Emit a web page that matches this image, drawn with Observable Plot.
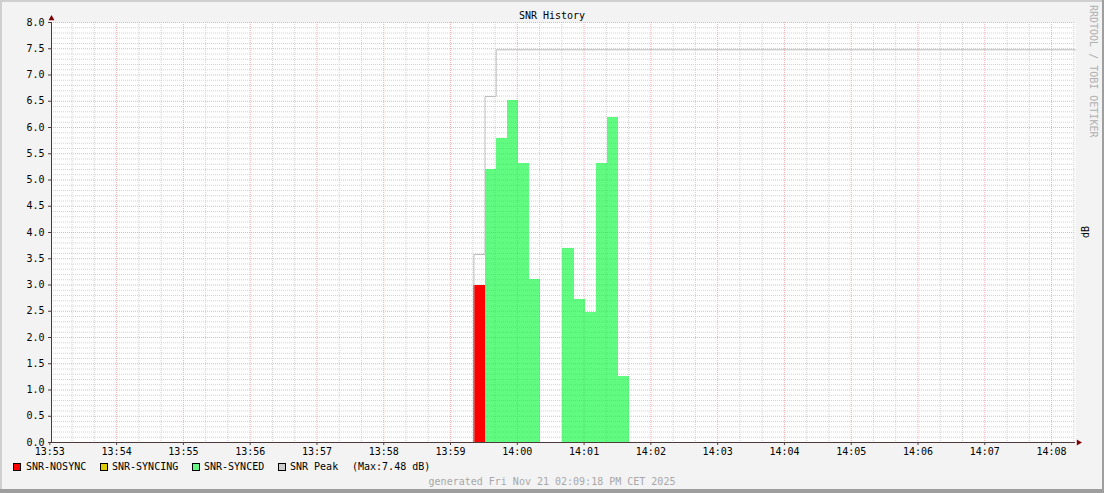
<!DOCTYPE html>
<html><head><meta charset="utf-8">
<script src="https://cdn.jsdelivr.net/npm/d3@7"></script>
<script src="https://cdn.jsdelivr.net/npm/@observablehq/plot@0.6"></script>
<style>
html,body{margin:0;padding:0;background:#f3f3f3;}
#wrap{position:relative;width:1104px;height:493px;background:#f3f3f3;overflow:hidden;font-family:"DejaVu Sans Mono",monospace;font-size:10px;line-height:10px;color:#000;}
#wrap svg{position:absolute;left:0;top:0;}
.abs{position:absolute;white-space:pre;}
.sw{position:absolute;width:8px;height:8px;box-sizing:border-box;border:1px solid #000;}
</style></head>
<body><div id="wrap"></div>
<script>
// ---- data ----
const day = "2025-11-21T";
const title = "SNR History";
const footer = "generated Fri Nov 21 02:09:18 PM CET 2025";
const watermark = "RRDTOOL / TOBI OETIKER";
const unitLabel = "dB";
const xDomain = ["13:53:01.5", "14:08:21.5"];
const xTickLabels = ["13:53","13:54","13:55","13:56","13:57","13:58","13:59","14:00","14:01","14:02","14:03","14:04","14:05","14:06","14:07","14:08"];
const yTickLabels = ["0.0","0.5","1.0","1.5","2.0","2.5","3.0","3.5","4.0","4.5","5.0","5.5","6.0","6.5","7.0","7.5","8.0"];
const barStart = ["13:59:21","13:59:31","13:59:41","13:59:51","14:00:01","14:00:11","14:00:41","14:00:51","14:01:01","14:01:11","14:01:21","14:01:31"];
const barState = ["NOSYNC","SYNCED","SYNCED","SYNCED","SYNCED","SYNCED","SYNCED","SYNCED","SYNCED","SYNCED","SYNCED","SYNCED"];
const barSnr = [3.0, 5.2, 5.8, 6.52, 5.32, 3.1, 3.7, 2.73, 2.47, 5.32, 6.2, 1.25];
const stepSeconds = 10;
const peakTimes = ["13:59:21","13:59:31","13:59:41","14:08:21.5"];
const peakValues = [3.58, 6.59, 7.48, 7.48];
const legendNames = ["SNR-NOSYNC","SNR-SYNCING","SNR-SYNCED","SNR Peak"];
const legendColors = ["#ff0000","#dccc00","#66f783","#cccccc"];
const peakMaxLabel = "(Max:7.48 dB)";

// ---- build ----
const T = s => new Date(day + s + "Z");
const x0 = T(xDomain[0]), x1 = T(xDomain[1]);
const bars = barStart.map((s, i) => ({t0: T(s), t1: new Date(T(s).getTime() + stepSeconds * 1000), v: barSnr[i], state: barState[i]}));
const peak = [{t: T(peakTimes[0]), v: 0}].concat(peakTimes.map((s, i) => ({t: T(s), v: peakValues[i]})));
const xTicks = xTickLabels.map(s => T(s + ":00"));
const yTicks = yTickLabels.map(Number);
const majorX = xTicks.filter(d => d >= x0 && d <= x1);
const minorX = d3.utcSecond.every(20).range(x0, x1).filter(d => d.getUTCSeconds() !== 0);
const minorY = d3.range(1, 80).map(i => i / 10).filter(v => Math.round(v * 10) % 5 !== 0);
const axisColor = "#4d3b3b";

const chart = Plot.plot({
  width: 1104, height: 493,
  marginLeft: 51, marginRight: 29, marginTop: 22, marginBottom: 51,
  x: {type: "utc", domain: [x0, x1]},
  y: {domain: [0, 8]},
  style: {background: "transparent", fontFamily: "DejaVu Sans Mono", fontSize: "10px", overflow: "visible"},
  marks: [
    Plot.frame({fill: "#ffffff", stroke: null}),
    Plot.ruleY(minorY, {stroke: "#d2d2d2", strokeDasharray: "1,1"}),
    Plot.ruleX(minorX, {stroke: "#d2d2d2", strokeDasharray: "1,1"}),
    Plot.ruleY(yTicks.filter(v => v > 0), {stroke: "#efb0b0", strokeDasharray: "1,1"}),
    Plot.ruleX(majorX, {stroke: "#efb0b0", strokeDasharray: "1,1"}),
    Plot.rectY(bars.filter(d => d.state === "NOSYNC"), {x1: "t0", x2: "t1", y: "v", fill: legendColors[0], inset: 0, shapeRendering: "crispEdges"}),
    Plot.rectY(bars.filter(d => d.state === "SYNCED"), {x1: "t0", x2: "t1", y: "v", fill: "#00f834", fillOpacity: 0.62, inset: 0, shapeRendering: "crispEdges"}),
    Plot.line(peak, {x: "t", y: "v", curve: "step-after", stroke: "#bcbcbc", strokeWidth: 1}),
    Plot.ruleY([0], {stroke: axisColor}),
    Plot.ruleX([x0], {stroke: axisColor}),
    Plot.axisX({ticks: xTicks, tickFormat: d3.utcFormat("%H:%M"), tickSize: 3, tickPadding: 2, stroke: axisColor, fill: "#000", label: null}),
    Plot.axisY({ticks: yTicks, tickFormat: d => d.toFixed(1), tickSize: 3, tickPadding: 4, stroke: axisColor, fill: "#000", label: null}),
    Plot.dot([{t: x1, v: 0}], {x: "t", y: "v", symbol: "triangle", r: 2.2, rotate: 90, dx: 3, fill: "#7f0000", stroke: null}),
    Plot.dot([{t: x0, v: 8}], {x: "t", y: "v", symbol: "triangle", r: 2.2, dy: -4, fill: "#7f0000", stroke: null})
  ]
});

const wrap = document.getElementById("wrap");
wrap.appendChild(chart);

function addText(txt, css) {
  const d = document.createElement("div");
  d.className = "abs";
  d.textContent = txt;
  Object.assign(d.style, css);
  wrap.appendChild(d);
  return d;
}
function addBox(css, cls) {
  const d = document.createElement("div");
  if (cls) d.className = cls;
  d.style.position = "absolute";
  Object.assign(d.style, css);
  wrap.appendChild(d);
  return d;
}

addText(title, {left: "0px", width: "1104px", textAlign: "center", top: "10.5px"});
addText(footer, {left: "0px", width: "1104px", textAlign: "center", top: "476.5px", color: "#a8a8a8"});
addText(watermark, {left: "1097.8px", top: "4.5px", color: "#b0b0b0", transformOrigin: "0 0", transform: "rotate(90deg)"});
addText(unitLabel, {left: "1080.8px", top: "237.5px", transformOrigin: "0 0", transform: "rotate(-90deg)"});

const swX = [13, 100, 192, 278];
const txtX = [26, 112, 204, 290];
legendNames.forEach((n, i) => {
  addBox({left: swX[i] + "px", top: "463px", background: legendColors[i]}, "sw");
  addText(n, {left: txtX[i] + "px", top: "462.2px"});
});
addText(peakMaxLabel, {left: "352px", top: "462.2px"});

// frame shading
addBox({left: "0px", top: "0px", width: "1104px", height: "2px", background: "#cfcfcf"});
addBox({left: "0px", top: "0px", width: "2px", height: "493px", background: "#cfcfcf"});
addBox({left: "1102px", top: "0px", width: "2px", height: "493px", background: "#9e9e9e"});
addBox({left: "0px", top: "489px", width: "1104px", height: "4px", background: "#9e9e9e"});
</script>
</body></html>
